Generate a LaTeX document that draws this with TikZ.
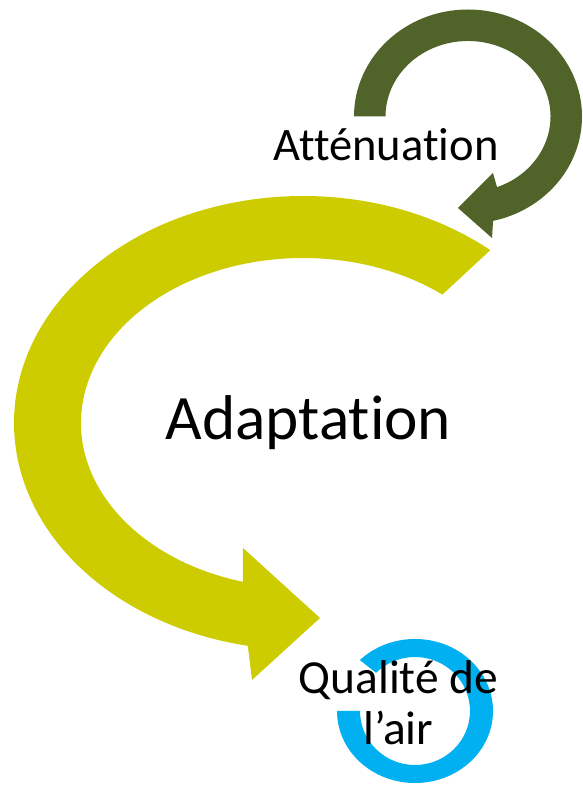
\documentclass[tikz,border=0pt]{standalone}
\usepackage{fontspec}
\setmainfont{Carlito}[Ligatures=NoCommon]
\usepackage{xcolor}
\usepackage{tikz}
\definecolor{attgreen}{RGB}{80,99,41}
\definecolor{adaptyellow}{RGB}{204,204,0}
\definecolor{airblue}{RGB}{0,176,240}

\begin{document}
\begin{tikzpicture}[x=0.02cm,y=0.02cm,
    lbl/.style={inner sep=0pt,text=black,anchor=base}]
    \useasboundingbox (0,0) rectangle (582,788);

    % Attenuation loop (top right)
    \coordinate (attc) at (468,671.5);
    \fill[attgreen] ([shift={(180:114 and 107)}]attc)
        arc[start angle=180,end angle=-77.3,x radius=114,y radius=107]
        -- (492,550) -- (458,580) -- (493,615)
        -- ([shift={(-69.4:82.5 and 75.5)}]attc)
        arc[start angle=-69.4,end angle=180,x radius=82.5,y radius=75.5]
        -- cycle;

    % Adaptation arrow (big one, left)
    \coordinate (adc) at (303,365);
    \fill[adaptyellow] ([shift={(49.6:289 and 227)}]adc)
        arc[start angle=49.6,end angle=259,x radius=289,y radius=227]
        -- (252,108) -- (320,170) -- (243,240)
        -- ([shift={(254.3:222 and 165)}]adc)
        arc[start angle=254.3,end angle=51.1,x radius=222,y radius=165]
        -- cycle;

    % Air quality ring (bottom)
    \coordinate (airc) at (415,77);
    \fill[airblue] ([shift={(135:78 and 72)}]airc)
        arc[start angle=135,end angle=-180,x radius=78,y radius=72]
        -- ([shift={(180:55 and 54)}]airc)
        arc[start angle=-180,end angle=135,x radius=55,y radius=54]
        -- cycle;

    % Texts
    \node[lbl,font=\fontsize{26.5}{31}\selectfont] (att) at (386,627) {Atténuation};
    \node[lbl,font=\fontsize{36}{43}\selectfont] (adapt) at (308.5,348) {Adaptation};
    \node[lbl,font=\fontsize{27}{29.5}\selectfont,align=center] (air) at (398.5,43) {Qualité de\\l’air};
\end{tikzpicture}
\end{document}
